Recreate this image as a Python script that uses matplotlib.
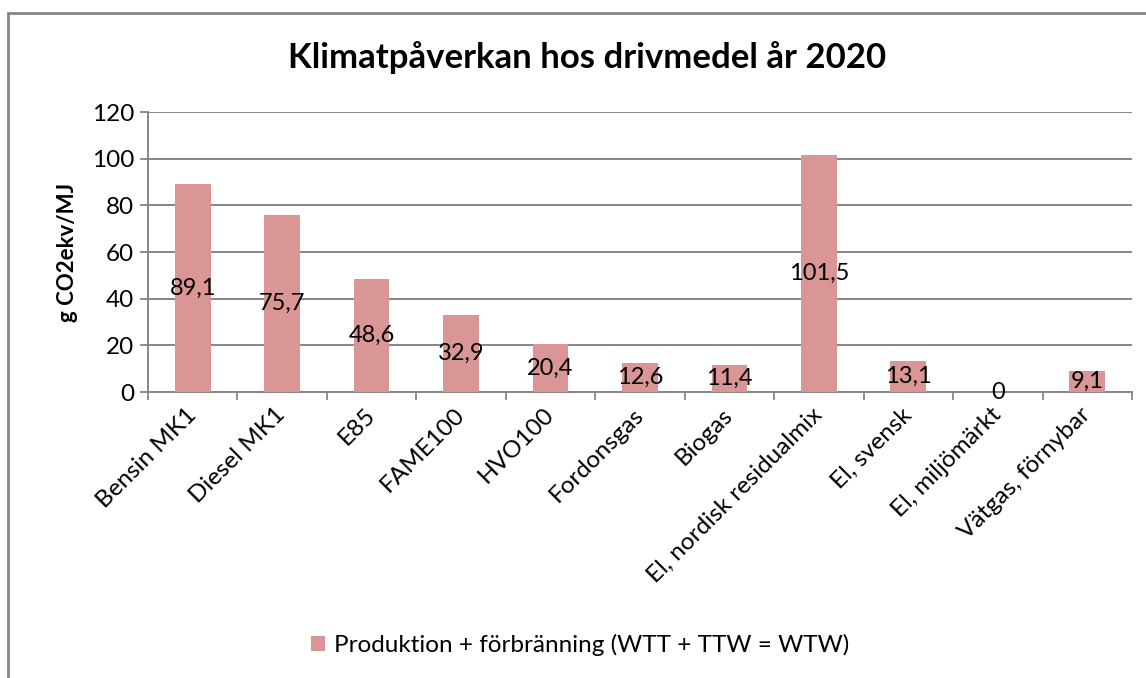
import numpy as np
import matplotlib
matplotlib.use('Agg')
import matplotlib.pyplot as plt
from matplotlib.patches import Rectangle

plt.rcParams['font.family'] = ['Lato', 'DejaVu Sans']

# data
kategorier = ['Bensin MK1', 'Diesel MK1', 'E85', 'FAME100', 'HVO100', 'Fordonsgas',
              'Biogas', 'El, nordisk residualmix', 'El, svensk', 'El, miljömärkt',
              'Vätgas, förnybar']
varden = [89.1, 75.7, 48.6, 32.9, 20.4, 12.6, 11.4, 101.5, 13.1, 0, 9.1]
y_ticks = [0, 20, 40, 60, 80, 100, 120]

BAR_C = '#D99694'
GRID_C = '#868686'

fig = plt.figure(figsize=(11.46, 6.78), dpi=100)
ax = fig.add_axes([0.1291, 0.4218, 0.8587, 0.413])

x = np.arange(len(kategorier))
ax.bar(x, varden, width=0.40, color=BAR_C, zorder=3, label='Produktion + förbränning (WTT + TTW = WTW)')

for xi, v in zip(x, varden):
    ax.text(xi, v / 2, f"{v:g}".replace('.', ','), ha='center', va='center', fontsize=17, zorder=4)

ax.set_xlim(-0.5, len(kategorier) - 0.5)
ax.set_ylim(0, 120)
ax.set_yticks(y_ticks)
ax.tick_params(axis='y', labelsize=17.5, length=6, width=1.3, color=GRID_C, pad=4)
ax.yaxis.grid(True, color=GRID_C, lw=1.4, zorder=0)

ax.set_xticks(np.arange(-0.5, len(kategorier), 1.0))
ax.set_xticklabels([])
ax.tick_params(axis='x', length=6, width=1.3, color=GRID_C)
ax.set_xticks(x, minor=True)
ax.set_xticklabels(kategorier, minor=True, rotation=45, ha='right', va='center',
                   rotation_mode='anchor', fontsize=17.5)
ax.tick_params(axis='x', which='minor', length=0, pad=14)

for s in ['top', 'right']:
    ax.spines[s].set_visible(False)
for s in ['left', 'bottom']:
    ax.spines[s].set_color(GRID_C)
    ax.spines[s].set_linewidth(1.4)

ax.set_ylabel('g CO2ekv/MJ', fontsize=16, fontweight='bold', labelpad=10)

fig.text(0.512, 0.915, 'Klimatpåverkan hos drivmedel år 2020', ha='center', va='center',
         fontsize=25, fontweight='bold')

fig.legend(loc='center', bbox_to_anchor=(0.506, 0.049), frameon=False, fontsize=17.5,
           handlelength=0.6, handleheight=0.6, handletextpad=0.35)

# outer chart border
fig.patches.append(Rectangle((8 / 1146, -0.1), 1.2, 0.1 + 1 - 13 / 678, transform=fig.transFigure,
                             fill=False, edgecolor=GRID_C, lw=2, figure=fig))

fig.savefig('out.png', dpi=100)
